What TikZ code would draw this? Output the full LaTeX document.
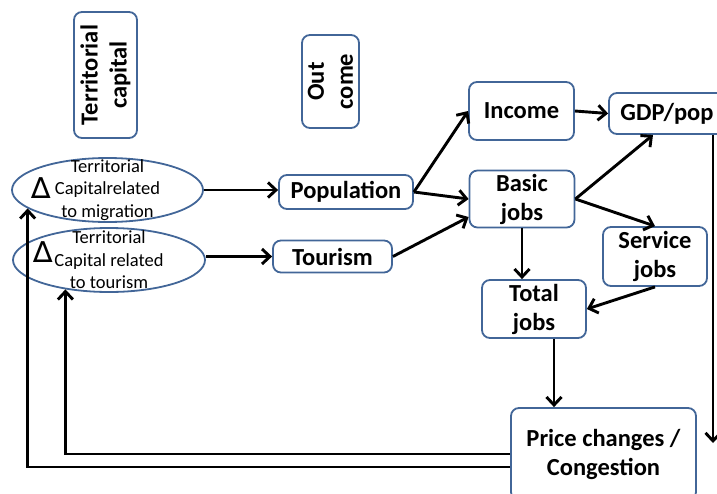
\documentclass[tikz,border=0pt]{standalone}
\usepackage{fontspec}
\setmainfont{Carlito}
\newfontfamily\deltafont{DejaVu Sans}
\usetikzlibrary{arrows.meta,shapes.geometric,calc}
\definecolor{boxblue}{RGB}{66,102,152}
\begin{document}
\begin{tikzpicture}[x=1pt,y=-1pt,
 box/.style={draw=boxblue,line width=1.8pt,rounded corners=8pt,inner sep=0pt,align=center,font=\fontsize{24.5}{29}\selectfont\bfseries},
 oval/.style={draw=boxblue,line width=1.8pt,ellipse,inner sep=0pt,minimum width=191pt,minimum height=64pt},
 ovaltext/.style={inner sep=0pt,align=center,font=\fontsize{18.5}{22.5}\selectfont},
 delta/.style={inner sep=0pt,font=\deltafont\fontsize{29}{29}\selectfont},
 arr/.style={line width=2.9pt,-{Straight Barb[length=8pt,width=15pt]}}]
\useasboundingbox (0,0) rectangle (717,493);
% headers
\node[box,minimum width=126pt,minimum height=63pt,rotate=90] (tc) at (105.5,75) {Territorial\\capital};
\node[box,minimum width=93pt,minimum height=57pt,rotate=90] (oc) at (330.5,81.5) {Out\\come};
% ellipses
\node[oval] (e1) at (107.5,190) {};
\node[oval,minimum width=192pt] (e2) at (109,260) {};
\node[ovaltext] (t1) at (e1.center) {Territorial\\Capitalrelated\\to migration};
\node[ovaltext] (t2) at (e2.center) {Territorial\\Capital related\\to tourism};
\node[delta] (d1) at (41.5,188) {∆};
\node[delta] (d2) at (43,252) {∆};
% boxes
\node[box,minimum width=134pt,minimum height=34pt] (pop) at (346,192) {Population};
\node[box,minimum width=119pt,minimum height=32pt] (tour) at (332.5,256.5) {Tourism};
\node[box,minimum width=105pt,minimum height=58pt] (inc) at (521.5,111) {Income};
\node[box,minimum width=116pt,minimum height=41pt] (gdp) at (667,113.5) {GDP/pop};
\node[box,minimum width=105pt,minimum height=57pt] (basic) at (522,199) {Basic\\jobs};
\node[box,minimum width=104pt,minimum height=59pt] (serv) at (655,256.5) {Service\\jobs};
\node[box,minimum width=104pt,minimum height=58pt] (tot) at (534,309) {Total\\jobs};
\node[box,minimum width=185pt,minimum height=92pt] (price) at (603.5,454) {Price changes /\\Congestion};
% connectors
\draw[arr] (e1.east) -- (e1.east -| pop.west);
\draw[arr] (tour.west -| e2.east) -- (tour.west);
\draw[arr] (pop.east) -- (inc.west);
\draw[arr] (pop.east) -- (basic.west);
\draw[arr] (tour.east) -- ([yshift=-18pt]basic.west);
\draw[arr] (inc.east) -- (gdp.west);
\draw[arr] (basic.east) -- ([xshift=-14pt]gdp.south);
\draw[arr] (basic.east) -- (serv.north);
\draw[arr] (basic.south) -- (basic.south |- tot.north);
\draw[arr] (serv.south) -- (tot.east);
\draw[arr] ([xshift=20pt]tot.south) -- ([xshift=20pt]tot.south |- price.north);
\coordinate (gend) at (713,443);
\draw[arr] (gdp.south -| gend) -- (gend);
\draw[arr] (price.west) -| (e2.214);
\draw[arr] ([yshift=-13pt]price.west) -| (e1.193);
\end{tikzpicture}
\end{document}
